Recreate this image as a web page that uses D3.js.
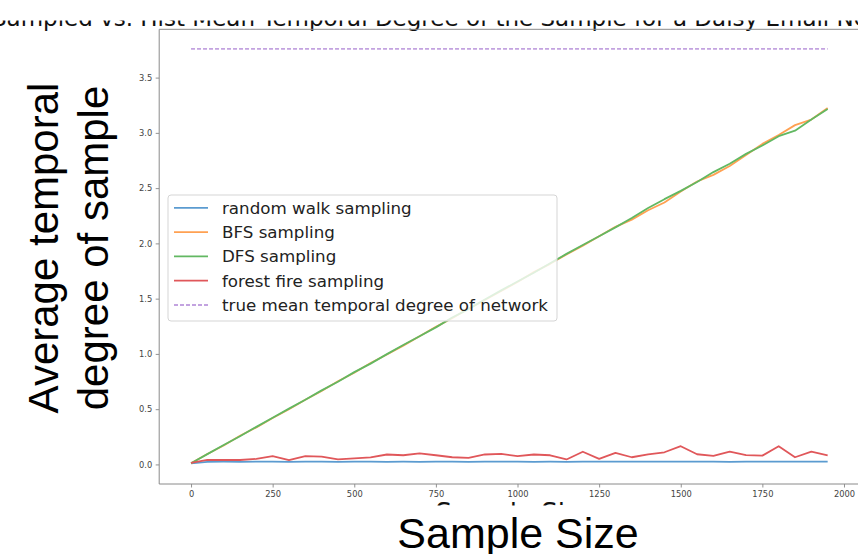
<!DOCTYPE html>
<html>
<head>
<meta charset="utf-8">
<script src="https://cdn.jsdelivr.net/npm/d3@7/dist/d3.min.js"></script>
<style>
  html, body { margin: 0; padding: 0; background: #fff; }
  svg { display: block; }
</style>
</head>
<body>
<svg id="chart" width="858" height="554"></svg>
<script>
// ---------- data ----------
const sampleSizes = [0,50,100,150,200,250,300,350,400,450,500,550,600,650,700,750,800,850,900,950,
  1000,1050,1100,1150,1200,1250,1300,1350,1400,1450,1500,1550,1600,1650,1700,1750,1800,1850,1900,1950];

const randomWalk = [0.010,0.024,0.025,0.024,0.025,0.025,0.024,0.025,0.025,0.024,0.025,0.025,0.023,0.025,0.024,0.025,0.025,0.024,0.025,0.025,
  0.025,0.024,0.025,0.024,0.025,0.025,0.026,0.025,0.025,0.025,0.026,0.025,0.025,0.024,0.025,0.025,0.025,0.025,0.025,0.026];

const bfs = [0.010,0.095,0.172,0.260,0.335,0.420,0.500,0.585,0.665,0.752,0.830,0.918,0.995,1.075,1.160,1.245,1.322,1.410,1.488,1.570,
  1.650,1.740,1.815,1.900,1.980,2.065,2.150,2.215,2.300,2.370,2.470,2.560,2.620,2.700,2.800,2.900,2.980,3.070,3.120,3.225];

const dfs = [0.010,0.093,0.176,0.255,0.340,0.423,0.505,0.585,0.670,0.748,0.835,0.912,0.998,1.080,1.160,1.240,1.330,1.405,1.492,1.575,
  1.655,1.735,1.820,1.905,1.985,2.065,2.145,2.230,2.320,2.400,2.475,2.555,2.645,2.720,2.810,2.885,2.970,3.020,3.120,3.215];

const forestFire = [0.015,0.042,0.040,0.040,0.050,0.075,0.040,0.075,0.070,0.045,0.055,0.064,0.090,0.083,0.100,0.083,0.065,0.060,0.090,0.095,
  0.075,0.090,0.083,0.045,0.115,0.050,0.105,0.065,0.092,0.110,0.165,0.092,0.077,0.115,0.085,0.080,0.165,0.065,0.115,0.083];

const trueMean = 3.76;

const xTicks = [0,250,500,750,1000,1250,1500,1750,2000];
const yTicks = [0,0.5,1.0,1.5,2.0,2.5,3.0,3.5];

const seriesNames = ["random walk sampling","BFS sampling","DFS sampling","forest fire sampling","true mean temporal degree of network"];
const seriesColors = ["#5b9bd0","#ffa152","#62b862","#e0575a","#c3a3e0"];

const titleText = "Sampled vs. Hist Mean Temporal Degree of the Sample for a Daisy Email Network";
const titlePrefix = "Sampled vs. Hist ";
const xLabel = "Sample Size";
const yLabelLines = ["Average temporal","degree of sample"];

// ---------- layout ----------
const svg = d3.select("#chart");
const plot = {left: 159.2, right: 859.5, top: 29.3, bottom: 484};

const x = d3.scaleLinear().domain([-97.5, 2047.5]).range([plot.left, plot.right]);
const y = d3.scaleLinear().domain([-0.177, 3.937]).range([plot.bottom, plot.top]);

// title (its top is cropped off in the original picture)
const tmp = svg.append("text").attr("font-family","DejaVu Sans").attr("font-size",23).text(titlePrefix);
const prefixW = tmp.node().getComputedTextLength();
tmp.remove();
svg.append("text")
  .attr("x", 185 - prefixW).attr("y", 26)
  .attr("font-family","DejaVu Sans").attr("font-size",23).attr("fill","#111")
  .text(titleText);
svg.append("rect").attr("x",0).attr("y",0).attr("width",858).attr("height",20.5).attr("fill","#fff");

// axes
const xAxis = d3.axisBottom(x).tickValues(xTicks).tickSize(3.5).tickPadding(3.5).tickFormat(d3.format("d"));
const yAxis = d3.axisLeft(y).tickValues(yTicks).tickSize(3.5).tickPadding(3.5).tickFormat(d3.format(".1f"));

const gx = svg.append("g").attr("transform",`translate(0,${plot.bottom})`).call(xAxis);
const gy = svg.append("g").attr("transform",`translate(${plot.left},0)`).call(yAxis);
[gx, gy].forEach(g => {
  g.select(".domain").remove();
  g.selectAll(".tick line").attr("stroke","#777").attr("stroke-width",0.8);
  g.selectAll(".tick text").attr("font-family","DejaVu Sans").attr("font-size",8.3).attr("fill","#444");
});

// spines
[[plot.left,plot.top,plot.left,plot.bottom],[plot.left,plot.bottom,plot.right,plot.bottom],
 [plot.left,plot.top,plot.right,plot.top],[plot.right,plot.top,plot.right,plot.bottom]].forEach(s => {
  svg.append("line").attr("x1",s[0]).attr("y1",s[1]).attr("x2",s[2]).attr("y2",s[3])
    .attr("stroke","#8a8a8a").attr("stroke-width",1);
});

// lines
const line = d3.line().x((d,i) => x(sampleSizes[i])).y(d => y(d));
const allSeries = [randomWalk, bfs, dfs, forestFire];
allSeries.forEach((s, i) => {
  svg.append("path").datum(s).attr("d", line)
    .attr("fill","none").attr("stroke",seriesColors[i]).attr("stroke-width",1.8)
    .attr("stroke-linejoin","round");
});
svg.append("line")
  .attr("x1", x(sampleSizes[0])).attr("x2", x(sampleSizes[sampleSizes.length-1]))
  .attr("y1", y(trueMean)).attr("y2", y(trueMean))
  .attr("stroke", seriesColors[4]).attr("stroke-width",1.8)
  .attr("stroke-dasharray","4,2");

// legend
const lg = svg.append("g");
lg.append("rect").attr("x",168).attr("y",195).attr("width",389).attr("height",126).attr("rx",3)
  .attr("fill","#fff").attr("fill-opacity",0.8).attr("stroke","#d5d5d5").attr("stroke-width",1);
seriesNames.forEach((name, i) => {
  const cy = 207.8 + i * 24.3;
  lg.append("line").attr("x1",174).attr("x2",208).attr("y1",cy).attr("y2",cy)
    .attr("stroke",seriesColors[i]).attr("stroke-width",1.8)
    .attr("stroke-dasharray", i === 4 ? "4,2" : null);
  lg.append("text").attr("x",222).attr("y",cy).attr("dy","0.35em")
    .attr("font-family","DejaVu Sans").attr("font-size",16.7).attr("fill","#222")
    .text(name);
});

// small original axis label, hidden under the big one except for its top edge
svg.append("text")
  .attr("x",515).attr("y",521.5).attr("text-anchor","middle")
  .attr("font-family","DejaVu Sans").attr("font-size",26).attr("fill","#111")
  .text(xLabel);
svg.append("rect").attr("x",0).attr("y",505.5).attr("width",858).attr("height",49).attr("fill","#fff");

// big axis labels
svg.append("text").attr("x",518).attr("y",548).attr("text-anchor","middle")
  .attr("font-family","Liberation Sans, Arial, sans-serif").attr("font-size",43).attr("fill","#000")
  .text(xLabel);

yLabelLines.forEach((t, i) => {
  svg.append("text")
    .attr("transform", `translate(${58 + i*50},248) rotate(-90)`)
    .attr("text-anchor","middle")
    .attr("font-family","Liberation Sans, Arial, sans-serif").attr("font-size",42).attr("fill","#000")
    .text(t);
});
</script>
</body>
</html>
